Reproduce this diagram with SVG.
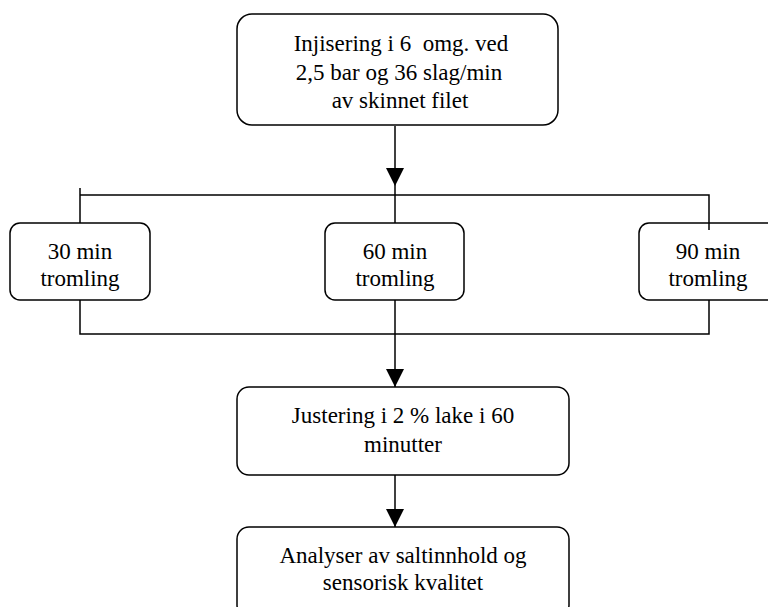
<svg xmlns="http://www.w3.org/2000/svg" width="768" height="607" viewBox="0 0 768 607">
<defs>
<style>
.box{fill:#fff;stroke:#000;stroke-width:1.5}
.ln{fill:none;stroke:#000;stroke-width:1.5}
text{font-family:"Liberation Serif","Times New Roman",serif;font-size:23px;fill:#000;text-anchor:middle;white-space:pre}
</style>
<marker id="ah" markerWidth="18" markerHeight="18" viewBox="0 0 18 18" refX="18" refY="9" orient="auto" markerUnits="userSpaceOnUse">
<path d="M0,0 L18,9 L0,18 Z" fill="#000"/>
</marker>
</defs>
<rect width="768" height="607" fill="#fff"/>
<g id="connectors">
<line class="ln" x1="395" y1="126" x2="395" y2="186" marker-end="url(#ah)"/>
<line class="ln" x1="80" y1="188" x2="80" y2="223"/>
<polyline class="ln" points="80,195 709,195 709,230"/>
<line class="ln" x1="395" y1="186" x2="395" y2="223"/>
<polyline class="ln" points="80,300 80,334 709,334 709,300"/>
<line class="ln" x1="395" y1="300" x2="395" y2="387" marker-end="url(#ah)"/>
<line class="ln" x1="395" y1="475" x2="395" y2="527" marker-end="url(#ah)"/>
</g>
<g id="n1">
<rect class="box" x="237" y="14" width="321" height="111" rx="15"/>
<text x="401" y="51" xml:space="preserve">Injisering i 6  omg. ved</text>
<text x="399" y="80">2,5 bar og 36 slag/min</text>
<text x="400" y="108">av skinnet filet</text>
</g>
<g id="n2">
<rect class="box" x="10" y="223" width="140" height="77" rx="10"/>
<text x="80" y="259">30 min</text>
<text x="80" y="286">tromling</text>
</g>
<g id="n3">
<rect class="box" x="325" y="223" width="139" height="77" rx="10"/>
<text x="395" y="259">60 min</text>
<text x="395" y="286">tromling</text>
</g>
<g id="n4">
<rect class="box" x="639" y="223" width="139" height="77" rx="10"/>
<line class="ln" x1="709" y1="223" x2="709" y2="230"/>
<text x="708" y="259">90 min</text>
<text x="708" y="286">tromling</text>
</g>
<g id="n5">
<rect class="box" x="237" y="387" width="332" height="88" rx="12"/>
<text x="403" y="423">Justering i 2 % lake i 60</text>
<text x="403" y="452">minutter</text>
</g>
<g id="n6">
<rect class="box" x="237" y="527" width="332" height="90" rx="12"/>
<text x="403" y="563">Analyser av saltinnhold og</text>
<text x="403" y="590">sensorisk kvalitet</text>
</g>
</svg>
